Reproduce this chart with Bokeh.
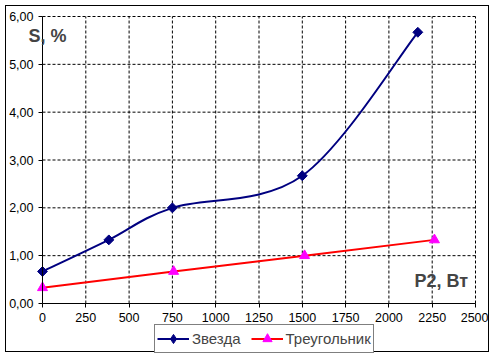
from bokeh.plotting import figure
from bokeh.models import (Range1d, FixedTicker, CustomJSTickFormatter, Label,
                          Legend, LegendItem, ColumnDataSource, LinearAxis)
from bokeh.embed import file_html
from bokeh.resources import INLINE
import math

# ---- data ----
star_p2 = [0, 383, 750, 1500, 2167]
star_s = [0.67, 1.33, 2.00, 2.67, 5.67]
tri_p2 = [0, 757, 1513, 2263]
tri_s = [0.33, 0.67, 1.00, 1.33]
x_ticks = [0, 250, 500, 750, 1000, 1250, 1500, 1750, 2000, 2250, 2500]
y_ticks = [0, 1, 2, 3, 4, 5, 6]
y_label = "S, %"
x_label = "P2, Вт"
series_names = ["Звезда", "Треугольник"]

FONT = "Liberation Sans"

# canvas / pixel layout
W, H = 484, 347
X0_PX, X1_PX = 36, 469      # pixel position of x=0 and x=2500
Y0_PX, Y1_PX = 297, 10      # pixel (from top) of y=0 and y=6
xs = (x_ticks[-1] - x_ticks[0]) / (X1_PX - X0_PX)
ys = (y_ticks[-1] - y_ticks[0]) / (Y0_PX - Y1_PX)
x_range = Range1d(x_ticks[0] - X0_PX * xs, x_ticks[-1] + (W - X1_PX) * xs)
y_range = Range1d(y_ticks[0] - (H - Y0_PX) * ys, y_ticks[-1] + Y1_PX * ys)

p = figure(width=W, height=H, output_backend="svg", toolbar_location=None,
           x_range=x_range, y_range=y_range,
           x_axis_location=None, y_axis_location=None,
           min_border=0, margin=(5, 0, 0, 5))
p.styles = {"border": "1px solid black"}
p.outline_line_color = None
p.background_fill_color = "white"
p.border_fill_color = "white"
p.xgrid.visible = False
p.ygrid.visible = False

# dashed grid limited to the data area
p.segment(x0=x_ticks[1:], y0=y_ticks[0], x1=x_ticks[1:], y1=y_ticks[-1],
          line_color="black", line_dash="3 2", line_width=1)
p.segment(x0=x_ticks[0], y0=y_ticks[1:], x1=x_ticks[-1], y1=y_ticks[1:],
          line_color="black", line_dash="3 2", line_width=1)

xaxis = LinearAxis(fixed_location=0, bounds=(x_ticks[0], x_ticks[-1]))
yaxis = LinearAxis(fixed_location=0, bounds=(y_ticks[0], y_ticks[-1]))
for ax, ticks in ((xaxis, x_ticks), (yaxis, y_ticks)):
    ax.ticker = FixedTicker(ticks=ticks)
    ax.major_tick_in = 0
    ax.major_tick_out = 4
    ax.minor_tick_line_color = None
    ax.axis_line_color = "black"
    ax.major_tick_line_color = "black"
    ax.major_label_text_font = FONT
    ax.major_label_text_font_size = "12.5px"
    ax.major_label_text_color = "black"
    ax.major_label_standoff = 5
yaxis.formatter = CustomJSTickFormatter(code="return tick.toFixed(2).replace('.', ',');")
p.add_layout(xaxis, "below")
p.add_layout(yaxis, "left")

# smoothed star curve (Catmull-Rom -> cubic Bezier, Excel-like smoothing)
n = len(star_p2)
x0s, y0s, x1s, y1s, cx0, cy0, cx1, cy1 = [], [], [], [], [], [], [], []
for i in range(n - 1):
    pa = (star_p2[max(i - 1, 0)], star_s[max(i - 1, 0)])
    pb = (star_p2[i], star_s[i])
    pc = (star_p2[i + 1], star_s[i + 1])
    pd = (star_p2[min(i + 2, n - 1)], star_s[min(i + 2, n - 1)])
    x0s.append(pb[0]); y0s.append(pb[1]); x1s.append(pc[0]); y1s.append(pc[1])
    cx0.append(pb[0] + (pc[0] - pa[0]) / 6); cy0.append(pb[1] + (pc[1] - pa[1]) / 6)
    cx1.append(pc[0] - (pd[0] - pb[0]) / 6); cy1.append(pc[1] - (pd[1] - pb[1]) / 6)

bz_src = ColumnDataSource(dict(x0=x0s, y0=y0s, x1=x1s, y1=y1s,
                               cx0=cx0, cy0=cy0, cx1=cx1, cy1=cy1))
star_line = p.bezier(x0="x0", y0="y0", x1="x1", y1="y1", cx0="cx0", cy0="cy0",
                     cx1="cx1", cy1="cy1", source=bz_src, line_color="#000080",
                     line_width=2)
star_pts = p.scatter(star_p2, star_s, marker="square", angle=math.pi / 4, size=7,
                     fill_color="#000080", line_color="#000080")
# legend-only diamond (legend ignores marker angle)
star_leg = p.scatter(star_p2, star_s, marker="diamond", size=10,
                     fill_color="#000080", line_color="#000080", visible=False)

tri_line = p.line(tri_p2, tri_s, line_color="#FF0000", line_width=2)
tri_pts = p.scatter(tri_p2, tri_s, marker="triangle", size=10,
                    fill_color="#FF00FF", line_color="#FF00FF")

legend = Legend(items=[LegendItem(label=series_names[0], renderers=[star_line, star_leg]),
                       LegendItem(label=series_names[1], renderers=[tri_line, tri_pts])],
                orientation="horizontal", location=(148, 0),
                border_line_color="black", border_line_width=1,
                background_fill_color="white", background_fill_alpha=1,
                label_text_font=FONT, label_text_font_size="15px",
                glyph_width=32, glyph_height=23, label_height=16,
                label_standoff=3, spacing=10, padding=2, margin=0)
p.add_layout(legend, "center")

p.add_layout(Label(x=-81, y=5.60, text=y_label, text_font=FONT, text_font_size="18px",
                   text_font_style="bold", text_baseline="middle", text_align="left"))
p.add_layout(Label(x=2148, y=0.47, text=x_label, text_font=FONT, text_font_size="18px",
                   text_font_style="bold", text_baseline="middle", text_align="left"))

open("out.html", "w").write(file_html(p, INLINE))
